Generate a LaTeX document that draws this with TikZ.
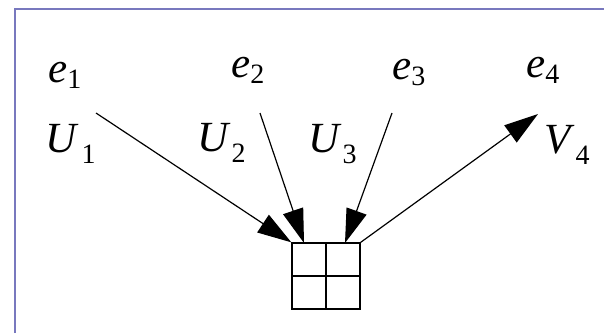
\documentclass[tikz,border=0pt]{standalone}
\usepackage{fontspec}
\setmainfont{Liberation Serif}
\usetikzlibrary{arrows.meta}
\definecolor{framecol}{RGB}{120,120,190}
\newcommand{\vsym}[3]{\textit{#1}\raisebox{-#3}{\fontsize{28}{28}\selectfont #2}}

\begin{document}
\begin{tikzpicture}[x=1pt, y=-1pt,
  lbl/.style={anchor=base west, inner sep=0pt, font=\fontsize{43}{43}\selectfont},
  cellbox/.style={draw, line width=1.3pt, minimum width=68pt, minimum height=66pt, inner sep=0pt},
  line/.style={draw=black, line width=1.2pt},
  arrow/.style={line, -{Triangle[length=34pt,width=21pt]}},
  frame/.style={draw=framecol, line width=2pt}
]
\useasboundingbox (0,0) rectangle (604,333);
\draw[frame] (15,333) -- (15,9) -- (604,9);

\node[lbl] (e1) at (48,82) {\vsym{e}{1}{6pt}};
\node[lbl] (e2) at (231,77) {\vsym{e}{2}{6pt}};
\node[lbl] (e3) at (392,79) {\vsym{e}{3}{6pt}};
\node[lbl] (e4) at (526,77) {\vsym{e}{4}{6pt}};
\node[lbl] (u1) at (45,152) {\vsym{U}{\kern3pt 1}{11pt}};
\node[lbl] (u2) at (197,151) {\vsym{U}{\kern1pt 2}{11pt}};
\node[lbl] (u3) at (308,152) {\vsym{U}{\kern1pt 3}{11pt}};
\node[lbl] (v4) at (544,153) {\vsym{V}{\kern1pt 4}{11pt}};

\node[cellbox] (cell) at (326,276) {};
\draw[line] (cell.north) -- (cell.south);
\draw[line] (cell.west) -- (cell.east);

\coordinate (s1) at (96,113);
\coordinate (s2) at (260,113);
\coordinate (s3) at (392,113);
\coordinate (t4) at (538,114);
\coordinate (t2) at (304,243);
\coordinate (t3) at (345,243);

\draw[arrow] (s1) -- (cell.north west);
\draw[arrow] (s2) -- (t2);
\draw[arrow] (s3) -- (t3);
\draw[arrow] (cell.north east) -- (t4);
\end{tikzpicture}
\end{document}
